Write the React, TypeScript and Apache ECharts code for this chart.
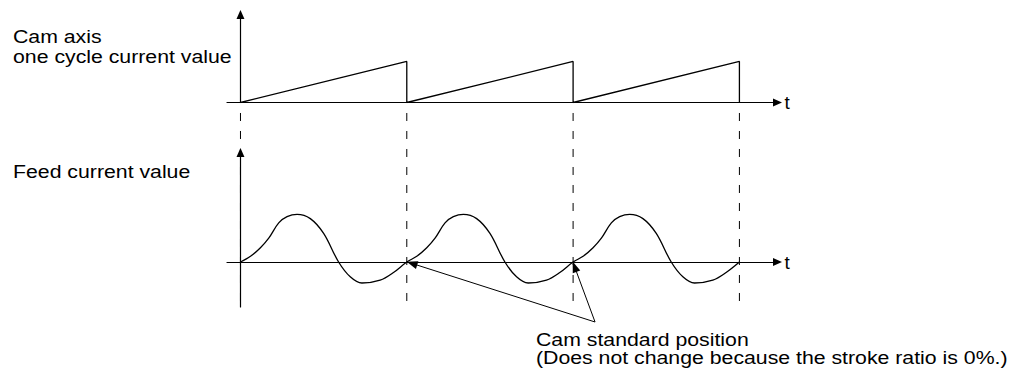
import React, { useEffect, useRef } from "react";
import * as echarts from "echarts";

// ---- data ----
const cycleBoundaries = [0, 1, 2, 3];
const sawTime = [0, 1, 1, 2, 2, 3, 3];
const sawValue = [0, 1, 0, 1, 0, 1, 0];
const feedPhase = [0, 0.06, 0.12, 0.17, 0.23, 0.28, 0.34, 0.42, 0.5, 0.59, 0.66, 0.73, 0.84, 0.92, 1.0];
const feedShape = [0, 0.12, 0.3, 0.5, 0.82, 0.95, 1.0, 0.91, 0.6, 0, -0.31, -0.44, -0.38, -0.22, 0];
const feedCycleStarts = [0, 1, 2];
const timeAxisName = "t";
const topTitle = ["Cam axis", "one cycle current value"];
const bottomTitle = ["Feed current value"];
const noteText = ["Cam standard position", "(Does not change because the stroke ratio is 0%.)"];
// annotation arrows: from the note anchor to the cam standard positions
const noteAnchor = [2.132, -1.258];
const noteTargets = [
  [1.031, -0.03],
  [2.009, -0.1],
];

const FONT = '"Liberation Sans", Arial, sans-serif';
const BLACK = "#000";

function buildFeed(): number[][] {
  const pts: number[][] = [];
  feedCycleStarts.forEach((c, ci) => {
    feedPhase.forEach((p, i) => {
      if (ci > 0 && i === 0) return;
      pts.push([c + p, feedShape[i]]);
    });
  });
  return pts;
}

export default function App() {
  const ref = useRef<HTMLDivElement>(null);

  useEffect(() => {
    if (!ref.current) return;
    const chart = echarts.init(ref.current, null, { renderer: "svg" });

    const xMin = -0.081;
    const xMax = 3.229;
    const gridLR = { left: 227, right: 246.5 };

    const axisLineArrow = {
      show: true,
      onZero: true,
      symbol: ["none", "triangle"],
      symbolSize: [8, 9],
      lineStyle: { color: BLACK, width: 1.2 },
    };

    const mkX = (gi: number, visible: boolean) => ({
      type: "value",
      gridIndex: gi,
      min: xMin,
      max: xMax,
      show: visible,
      axisLine: axisLineArrow,
      axisTick: { show: false },
      axisLabel: { show: false },
      splitLine: { show: false },
      name: visible ? timeAxisName : "",
      nameLocation: "end",
      nameGap: 7,
      nameTextStyle: { fontSize: 19, fontFamily: FONT, color: BLACK },
    });

    const mkY = (gi: number, min: number, max: number, visible: boolean) => ({
      type: "value",
      gridIndex: gi,
      min,
      max,
      show: visible,
      axisLine: axisLineArrow,
      axisTick: { show: false },
      axisLabel: { show: false },
      splitLine: { show: false },
    });

    const dashTop = 3.124;
    const dashBottom = -0.943;

    const textEl = (text: string, x: number, y: number) => ({
      type: "text",
      x,
      y,
      scaleX: 1.15,
      silent: true,
      style: {
        text,
        fill: BLACK,
        fontSize: 18.5,
        fontFamily: FONT,
        align: "left",
        verticalAlign: "middle",
      },
    });

    const graphics: any[] = [];
    topTitle.forEach((t, i) => graphics.push(textEl(t, 13, 36.8 + i * 20)));
    bottomTitle.forEach((t, i) => graphics.push(textEl(t, 13, 171.8 + i * 20)));
    noteText.forEach((t, i) => graphics.push(textEl(t, 536, 339.5 + i * 18)));

    const option: any = {
      animation: false,
      grid: [
        { ...gridLR, top: 14.5, bottom: 273.5, containLabel: false, outerBoundsMode: "none" },
        { ...gridLR, top: 152.5, bottom: 69, containLabel: false, outerBoundsMode: "none" },
        { ...gridLR, top: 108, bottom: 46, containLabel: false, outerBoundsMode: "none" },
      ],
      xAxis: [mkX(0, true), mkX(1, true), mkX(2, false)],
      yAxis: [mkY(0, 0, 2.146, true), mkY(1, -0.943, 2.296, true), mkY(2, -1.4256, 3.2285, false)],
      series: [
        {
          type: "line",
          xAxisIndex: 0,
          yAxisIndex: 0,
          data: sawTime.map((t, i) => [t, sawValue[i]]),
          symbol: "none",
          silent: true,
          lineStyle: { color: BLACK, width: 1.3 },
        },
        {
          type: "line",
          xAxisIndex: 1,
          yAxisIndex: 1,
          data: buildFeed(),
          smooth: 0.35,
          symbol: "none",
          silent: true,
          lineStyle: { color: BLACK, width: 1.3 },
        },
        ...cycleBoundaries.map((x) => ({
          type: "line",
          xAxisIndex: 2,
          yAxisIndex: 2,
          data: [
            [x, dashTop],
            [x, dashBottom],
          ],
          symbol: "none",
          silent: true,
          lineStyle: { color: BLACK, width: 1, type: [8, 10] },
        })),
        {
          type: "line",
          xAxisIndex: 2,
          yAxisIndex: 2,
          data: [],
          symbol: "none",
          silent: true,
          markLine: {
            silent: true,
            symbol: ["none", "triangle"],
            symbolSize: [8, 11],
            label: { show: false },
            lineStyle: { color: BLACK, width: 1, type: "solid" },
            emphasis: { disabled: true },
            data: noteTargets.map((t) => [
              { coord: noteAnchor },
              { coord: t },
            ]),
          },
        },
      ],
      graphic: graphics,
    };

    chart.setOption(option);
    return () => chart.dispose();
  }, []);

  return (
    <div
      ref={ref}
      style={{ position: "fixed", left: 0, top: 0, width: 1024, height: 376, background: "#fff" }}
    />
  );
}
